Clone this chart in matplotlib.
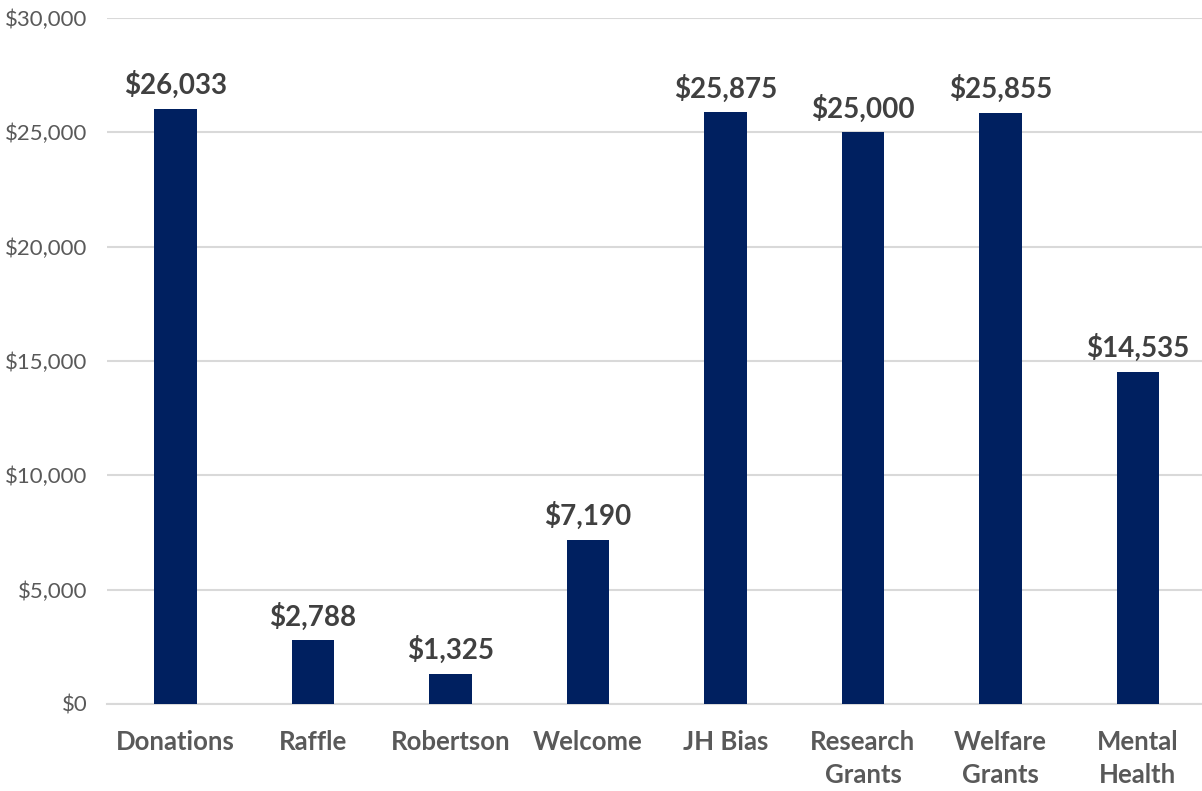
import matplotlib.pyplot as plt
from matplotlib.ticker import FuncFormatter

categories = ['Donations', 'Raffle', 'Robertson', 'Welcome', 'JH Bias',
              'Research\nGrants', 'Welfare\nGrants', 'Mental\nHealth']
amounts = [26033, 2788, 1325, 7190, 25875, 25000, 25855, 14535]
y_ticks = [0, 5000, 10000, 15000, 20000, 25000, 30000]

plt.rcParams['font.family'] = ['Lato', 'DejaVu Sans']

fig = plt.figure(figsize=(12.02, 7.91), dpi=100)
ax = fig.add_axes([0.0888, 0.110, 0.9151, 0.8673])

x = range(len(categories))
bars = ax.bar(x, amounts, width=0.31, color='#002060', zorder=3)

# data labels above the bars
for b, v in zip(bars, amounts):
    ax.annotate('${:,}'.format(v), (b.get_x() + b.get_width() / 2, v),
                xytext=(0, 7), textcoords='offset points', ha='center', va='bottom',
                fontsize=20, fontweight='bold', color='#404040')

ax.set_xlim(-0.5, len(categories) - 0.5)
ax.set_ylim(0, 30000)
ax.set_yticks(y_ticks)
ax.yaxis.set_major_formatter(FuncFormatter(lambda v, p: '${:,.0f}'.format(v)))
ax.set_xticks(list(x))
ax.set_xticklabels(categories, fontsize=18.5, fontweight='bold', color='#595959',
                   linespacing=1.45, va='top')
ax.tick_params(axis='y', labelsize=16, labelcolor='#595959', length=0, pad=14)
ax.tick_params(axis='x', length=0, pad=19)

ax.grid(axis='y', color='#d9d9d9', linewidth=1.5, zorder=0)
for s in ['top', 'right', 'left']:
    ax.spines[s].set_visible(False)
ax.spines['bottom'].set_color('#d9d9d9')
ax.spines['bottom'].set_linewidth(1.5)

fig.savefig('out.png', dpi=100)
